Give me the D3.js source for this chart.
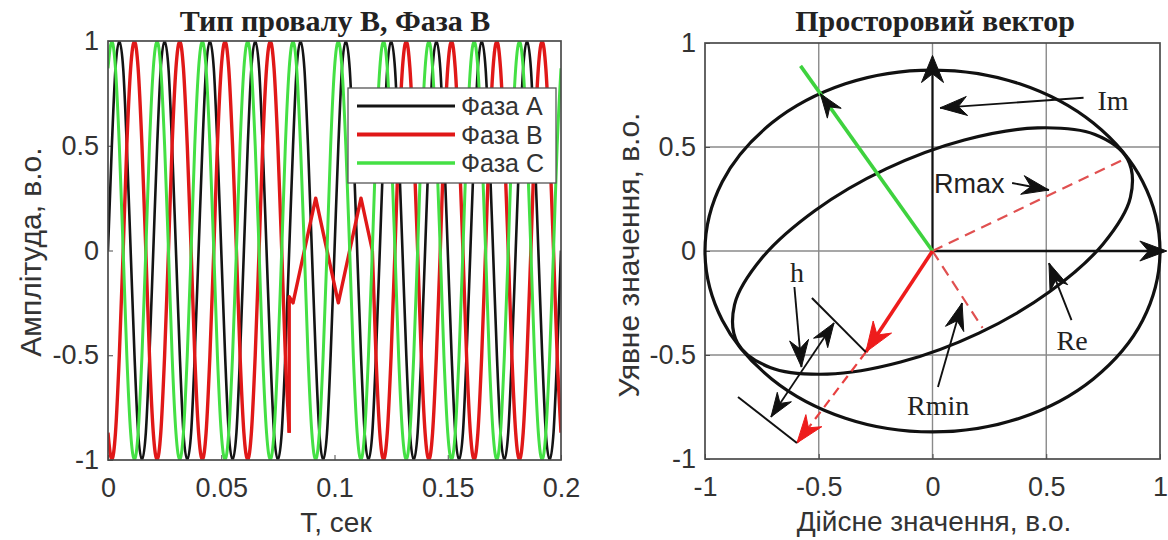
<!DOCTYPE html>
<html>
<head>
<meta charset="utf-8">
<script src="https://cdn.jsdelivr.net/npm/d3@7"></script>
<style>
  html, body { margin: 0; padding: 0; background: #fff; }
  svg { display: block; }
</style>
</head>
<body>
<svg id="chart" width="1168" height="540"></svg>
<script>
// ---- Left panel: phase voltages, samples every 1/12 of a 50 Hz period ----
const timeSec = [
  0, 0.0017, 0.0033, 0.005, 0.0067, 0.0083, 0.01, 0.0117, 0.0133, 0.015, 0.0167, 0.0183,
  0.02, 0.0217, 0.0233, 0.025, 0.0267, 0.0283, 0.03, 0.0317, 0.0333, 0.035, 0.0367, 0.0383,
  0.04, 0.0417, 0.0433, 0.045, 0.0467, 0.0483, 0.05, 0.0517, 0.0533, 0.055, 0.0567, 0.0583,
  0.06, 0.0617, 0.0633, 0.065, 0.0667, 0.0683, 0.07, 0.0717, 0.0733, 0.075, 0.0767, 0.0783,
  0.08, 0.0817, 0.0833, 0.085, 0.0867, 0.0883, 0.09, 0.0917, 0.0933, 0.095, 0.0967, 0.0983,
  0.1, 0.1017, 0.1033, 0.105, 0.1067, 0.1083, 0.11, 0.1117, 0.1133, 0.115, 0.1167, 0.1183,
  0.12, 0.1217, 0.1233, 0.125, 0.1267, 0.1283, 0.13, 0.1317, 0.1333, 0.135, 0.1367, 0.1383,
  0.14, 0.1417, 0.1433, 0.145, 0.1467, 0.1483, 0.15, 0.1517, 0.1533, 0.155, 0.1567, 0.1583,
  0.16, 0.1617, 0.1633, 0.165, 0.1667, 0.1683, 0.17, 0.1717, 0.1733, 0.175, 0.1767, 0.1783,
  0.18, 0.1817, 0.1833, 0.185, 0.1867, 0.1883, 0.19, 0.1917, 0.1933, 0.195, 0.1967, 0.1983,
  0.2
];
const phaseA = [
  0, 0.5, 0.87, 1, 0.87, 0.5, 0, -0.5, -0.87, -1, -0.87, -0.5,
  0, 0.5, 0.87, 1, 0.87, 0.5, 0, -0.5, -0.87, -1, -0.87, -0.5,
  0, 0.5, 0.87, 1, 0.87, 0.5, 0, -0.5, -0.87, -1, -0.87, -0.5,
  0, 0.5, 0.87, 1, 0.87, 0.5, 0, -0.5, -0.87, -1, -0.87, -0.5,
  0, 0.5, 0.87, 1, 0.87, 0.5, 0, -0.5, -0.87, -1, -0.87, -0.5,
  0, 0.5, 0.87, 1, 0.87, 0.5, 0, -0.5, -0.87, -1, -0.87, -0.5,
  0, 0.5, 0.87, 1, 0.87, 0.5, 0, -0.5, -0.87, -1, -0.87, -0.5,
  0, 0.5, 0.87, 1, 0.87, 0.5, 0, -0.5, -0.87, -1, -0.87, -0.5,
  0, 0.5, 0.87, 1, 0.87, 0.5, 0, -0.5, -0.87, -1, -0.87, -0.5,
  0, 0.5, 0.87, 1, 0.87, 0.5, 0, -0.5, -0.87, -1, -0.87, -0.5,
  0
];
// Phase B: null where the sagged segment (below) takes over
const phaseB = [
  -0.87, -1, -0.87, -0.5, 0, 0.5, 0.87, 1, 0.87, 0.5, 0, -0.5,
  -0.87, -1, -0.87, -0.5, 0, 0.5, 0.87, 1, 0.87, 0.5, 0, -0.5,
  -0.87, -1, -0.87, -0.5, 0, 0.5, 0.87, 1, 0.87, 0.5, 0, -0.5,
  -0.87, -1, -0.87, -0.5, 0, 0.5, 0.87, 1, 0.87, 0.5, 0, -0.5,
  -0.87, null, null, null, null, null, null, null, null, null, null, null,
  null, null, null, null, null, null, null, null, null, null, null, -0.5,
  -0.87, -1, -0.87, -0.5, 0, 0.5, 0.87, 1, 0.87, 0.5, 0, -0.5,
  -0.87, -1, -0.87, -0.5, 0, 0.5, 0.87, 1, 0.87, 0.5, 0, -0.5,
  -0.87, -1, -0.87, -0.5, 0, 0.5, 0.87, 1, 0.87, 0.5, 0, -0.5,
  -0.87, -1, -0.87, -0.5, 0, 0.5, 0.87, 1, 0.87, 0.5, 0, -0.5,
  -0.87
];
const sagTimeSec = [0.08, 0.08, 0.0817, 0.0917, 0.1017, 0.1117, 0.1167];
const sagPhaseB  = [-0.87, -0.22, -0.25, 0.25, -0.25, 0.25, 0];
const phaseC = [
  0.87, 1, 0.87, 0.5, 0, -0.5, -0.87, -1, -0.87, -0.5, 0, 0.5,
  0.87, 1, 0.87, 0.5, 0, -0.5, -0.87, -1, -0.87, -0.5, 0, 0.5,
  0.87, 1, 0.87, 0.5, 0, -0.5, -0.87, -1, -0.87, -0.5, 0, 0.5,
  0.87, 1, 0.87, 0.5, 0, -0.5, -0.87, -1, -0.87, -0.5, 0, 0.5,
  0.87, 1, 0.87, 0.5, 0, -0.5, -0.87, -1, -0.87, -0.5, 0, 0.5,
  0.87, 1, 0.87, 0.5, 0, -0.5, -0.87, -1, -0.87, -0.5, 0, 0.5,
  0.87, 1, 0.87, 0.5, 0, -0.5, -0.87, -1, -0.87, -0.5, 0, 0.5,
  0.87, 1, 0.87, 0.5, 0, -0.5, -0.87, -1, -0.87, -0.5, 0, 0.5,
  0.87, 1, 0.87, 0.5, 0, -0.5, -0.87, -1, -0.87, -0.5, 0, 0.5,
  0.87, 1, 0.87, 0.5, 0, -0.5, -0.87, -1, -0.87, -0.5, 0, 0.5,
  0.87
];
const phaseNames = ["Фаза А", "Фаза В", "Фаза С"];
const timeTicks = [0, 0.05, 0.1, 0.15, 0.2];
const ampTicks = [-1, -0.5, 0, 0.5, 1];

// ---- Right panel: space-vector trajectories (real, imaginary) ----
const outerRe = [1, 0.924, 0.707, 0.383, 0, -0.383, -0.707, -0.924, -1, -0.924, -0.707, -0.383, 0, 0.383, 0.707, 0.924];
const outerIm = [0, 0.333, 0.615, 0.804, 0.87, 0.804, 0.615, 0.333, 0, -0.333, -0.615, -0.804, -0.87, -0.804, -0.615, -0.333];
const innerRe = [0.857, 0.714, 0.462, 0.14, -0.204, -0.516, -0.75, -0.87, -0.857, -0.714, -0.462, -0.14, 0.204, 0.516, 0.75, 0.87];
const innerIm = [0.442, 0.56, 0.592, 0.534, 0.395, 0.195, -0.034, -0.258, -0.442, -0.56, -0.592, -0.534, -0.395, -0.195, 0.034, 0.258];
const vectorC = [-0.58, 0.89];        // phase C vector tip
const vectorB = [-0.293, -0.486];     // sagged phase B vector tip
const vectorBNominal = [-0.596, -0.923];
const rMaxTip = [0.84, 0.44];
const rMinTip = [0.22, -0.37];
const reImTicks = [-1, -0.5, 0, 0.5, 1];

const svg = d3.select("#chart");
const SANS = "Liberation Sans, Arial, sans-serif";
const SERIF = "Liberation Serif, Times New Roman, serif";
const AXIS_COLOR = "#4a4a4a";
const TEXT_COLOR = "#333";
const tickFmt = d => String(d);

function frame(g, x, y, xTicks, yTicks, grid) {
  const [x0, x1] = x.range(), [y1, y0] = y.range();
  if (grid) {
    g.append("g").selectAll("line").data(xTicks.slice(1, -1)).join("line")
      .attr("x1", d => x(d)).attr("x2", d => x(d)).attr("y1", y0).attr("y2", y1)
      .attr("stroke", "#8a8a8a").attr("stroke-width", 1.4);
    g.append("g").selectAll("line").data(yTicks.slice(1, -1)).join("line")
      .attr("y1", d => y(d)).attr("y2", d => y(d)).attr("x1", x0).attr("x2", x1)
      .attr("stroke", "#8a8a8a").attr("stroke-width", 1.4);
  }
  const ax = g.append("g").attr("transform", `translate(0,${y1})`)
    .call(d3.axisBottom(x).tickValues(xTicks).tickFormat(tickFmt).tickSizeInner(-5).tickSizeOuter(0).tickPadding(18));
  const ay = g.append("g").attr("transform", `translate(${x0},0)`)
    .call(d3.axisLeft(y).tickValues(yTicks).tickFormat(tickFmt).tickSizeInner(-5).tickSizeOuter(0).tickPadding(9));
  [ax, ay].forEach(a => {
    a.select(".domain").remove();
    a.selectAll("line").attr("stroke", AXIS_COLOR);
    a.selectAll("text").attr("font-family", SANS).attr("font-size", 27).attr("fill", TEXT_COLOR);
  });
  return () => g.append("rect").attr("x", x0).attr("y", y0).attr("width", x1 - x0).attr("height", y1 - y0)
    .attr("fill", "none").attr("stroke", AXIS_COLOR).attr("stroke-width", 1.7);
}

// ================= Left panel =================
const xT = d3.scaleLinear().domain([0, 0.2]).range([108, 561]);
const yA = d3.scaleLinear().domain([-1, 1]).range([460, 41]);
const gL = svg.append("g");
const closeL = frame(gL, xT, yA, timeTicks, ampTicks, false);

svg.append("clipPath").attr("id", "clipL").append("rect")
  .attr("x", 108).attr("y", 41).attr("width", 453).attr("height", 419);

const ptsA = timeSec.map((t, i) => [t, phaseA[i]]);
const ptsC = timeSec.map((t, i) => [t, phaseC[i]]);
const gridB = timeSec.map((t, i) => [t, phaseB[i]]);
const sagStart = phaseB.indexOf(null);
const sagEnd = phaseB.lastIndexOf(null);
const preB = gridB.slice(0, sagStart);
const postB = [[sagTimeSec[sagTimeSec.length - 1], sagPhaseB[sagPhaseB.length - 1]]].concat(gridB.slice(sagEnd + 1));
const sagB = sagTimeSec.map((t, i) => [t, sagPhaseB[i]]);

const smooth = d3.line().x(d => xT(d[0])).y(d => yA(d[1])).curve(d3.curveMonotoneX);
const straight = d3.line().x(d => xT(d[0])).y(d => yA(d[1]));
const RED = "#e01818", GREEN = "#44e044", BLACK = "#141414";
const wavePaths = [
  { d: smooth(ptsA), color: BLACK, width: 2.6 },
  { d: smooth(preB), color: RED, width: 3.4 },
  { d: straight(sagB), color: RED, width: 3.4 },
  { d: smooth(postB), color: RED, width: 3.4 },
  { d: smooth(ptsC), color: GREEN, width: 3 }
];
const gW = gL.append("g").attr("clip-path", "url(#clipL)");
gW.selectAll("path").data(wavePaths).join("path")
  .attr("d", d => d.d).attr("fill", "none")
  .attr("stroke", d => d.color).attr("stroke-width", d => d.width)
  .attr("stroke-linejoin", "round");
closeL();

// legend
const legendStyles = [{ color: BLACK, width: 2.8 }, { color: RED, width: 3.8 }, { color: GREEN, width: 3.4 }];
const leg = gL.append("g").attr("transform", "translate(348,88)");
leg.append("rect").attr("width", 208).attr("height", 95).attr("fill", "#fff")
  .attr("stroke", "#555").attr("stroke-width", 1.3);
phaseNames.forEach((name, i) => {
  const yy = 18 + i * 28.5;
  leg.append("line").attr("x1", 9).attr("x2", 107).attr("y1", yy).attr("y2", yy)
    .attr("stroke", legendStyles[i].color).attr("stroke-width", legendStyles[i].width);
  leg.append("text").attr("x", 113).attr("y", yy).attr("dy", "0.36em")
    .attr("font-family", SANS).attr("font-size", 25).attr("fill", TEXT_COLOR).text(name);
});

gL.append("text").attr("x", 335).attr("y", 31).attr("text-anchor", "middle")
  .attr("font-family", SERIF).attr("font-weight", "bold").attr("font-size", 30)
  .attr("fill", "#222").text("Тип провалу В, Фаза В");
gL.append("text").attr("x", 336).attr("y", 532).attr("text-anchor", "middle")
  .attr("font-family", SANS).attr("font-size", 28).attr("fill", TEXT_COLOR).text("T, сек");
gL.append("text").attr("transform", "translate(41,252) rotate(-90)").attr("text-anchor", "middle")
  .attr("font-family", SANS).attr("font-size", 30).attr("fill", TEXT_COLOR).text("Амплітуда, в.о.");

// ================= Right panel =================
const xR = d3.scaleLinear().domain([-1, 1]).range([705, 1160]);
const yR = d3.scaleLinear().domain([-1, 1]).range([459, 43]);
const gR = svg.append("g");
const closeR = frame(gR, xR, yR, reImTicks, reImTicks, true);
closeR();

const P = ([re, im]) => [xR(re), yR(im)];
function arrowHead(g, tip, from, color, len = 25, wid = 18) {
  const [tx, ty] = P(tip), [fx, fy] = P(from);
  const a = Math.atan2(ty - fy, tx - fx);
  const pts = [[0, 0], [-len, -wid / 2], [-len * 0.68, 0], [-len, wid / 2]];
  const rot = pts.map(([u, v]) => [tx + u * Math.cos(a) - v * Math.sin(a), ty + u * Math.sin(a) + v * Math.cos(a)]);
  g.append("path").attr("d", "M" + rot.join("L") + "Z").attr("fill", color).attr("stroke", color)
    .attr("stroke-width", 1).attr("stroke-linejoin", "miter");
}
function seg(g, a, b, color, width, dash) {
  const [x1, y1] = P(a), [x2, y2] = P(b);
  const l = g.append("line").attr("x1", x1).attr("y1", y1).attr("x2", x2).attr("y2", y2)
    .attr("stroke", color).attr("stroke-width", width);
  if (dash) l.attr("stroke-dasharray", dash);
  return l;
}

// real / imaginary axis arrows
seg(gR, [0, 0], [0, 0.9], "#111", 2.2);
arrowHead(gR, [0, 0.94], [0, 0], "#111", 27, 22);
seg(gR, [0, 0], [1.0, 0], "#111", 2.6);
arrowHead(gR, [1.03, 0], [0, 0], "#111", 27, 20);

// trajectories
const loop = d3.line().x(d => xR(d[0])).y(d => yR(d[1])).curve(d3.curveCatmullRomClosed.alpha(0.5));
gR.append("path").attr("d", loop(outerRe.map((r, i) => [r, outerIm[i]])))
  .attr("fill", "none").attr("stroke", "#111").attr("stroke-width", 3.2);
gR.append("path").attr("d", loop(innerRe.map((r, i) => [r, innerIm[i]])))
  .attr("fill", "none").attr("stroke", "#111").attr("stroke-width", 3.2);

// semi-axes of the ellipse
seg(gR, [0, 0], rMaxTip, "#e05050", 2.2, "11 7");
seg(gR, [0, 0], rMinTip, "#e05050", 2.2, "11 7");

// phase vectors
seg(gR, [0, 0], vectorC, "#3ed23e", 3.6);
arrowHead(gR, [vectorC[0] * 0.85, vectorC[1] * 0.85], [0, 0], "#111", 24, 17);
seg(gR, vectorB, vectorBNominal, "#e84040", 2.2, "9 6");
arrowHead(gR, vectorBNominal, vectorB, "#ee1c1c", 28, 20);
seg(gR, [0, 0], vectorB, "#ee1c1c", 3.6);
arrowHead(gR, vectorB, [0, 0], "#ee1c1c", 30, 22);

// depth h between the two vector tips
const hTop = [[-0.53, -0.226], [-0.293, -0.486]];
const hBot = [[-0.855, -0.702], [-0.596, -0.923]];
seg(gR, hTop[0], hTop[1], "#111", 2);
seg(gR, hBot[0], hBot[1], "#111", 2);
seg(gR, [-0.433, -0.346], [-0.71, -0.798], "#111", 1.8);
arrowHead(gR, [-0.433, -0.346], [-0.71, -0.798], "#111", 24, 17);
arrowHead(gR, [-0.71, -0.798], [-0.433, -0.346], "#111", 24, 17);

// labelled pointers
const pointers = [
  { text: "Im",   font: SERIF, at: [0.725, 0.68],  from: [0.664, 0.737], to: [0.033, 0.688] },
  { text: "Rmax", font: SANS,  at: [0.007, 0.279], from: [0.35, 0.327],  to: [0.512, 0.293] },
  { text: "Re",   font: SERIF, at: [0.545, -0.476], from: [0.611, -0.332], to: [0.512, -0.058] },
  { text: "Rmin", font: SERIF, at: [-0.112, -0.788], from: [0.024, -0.654], to: [0.13, -0.25] },
  { text: "h",    font: SERIF, at: [-0.626, -0.149], from: [-0.607, -0.173], to: [-0.576, -0.558] }
];
pointers.forEach(p => {
  seg(gR, p.from, p.to, "#111", 1.9);
  arrowHead(gR, p.to, p.from, "#111", 27, 19);
  const [x, y] = P(p.at);
  gR.append("text").attr("x", x).attr("y", y).attr("font-family", p.font)
    .attr("font-size", p.font === SANS ? 27 : 28).attr("fill", "#222").text(p.text);
});

gR.append("text").attr("x", 935).attr("y", 31).attr("text-anchor", "middle")
  .attr("font-family", SERIF).attr("font-weight", "bold").attr("font-size", 30)
  .attr("fill", "#222").text("Просторовий вектор");
gR.append("text").attr("x", 934).attr("y", 531).attr("text-anchor", "middle")
  .attr("font-family", SANS).attr("font-size", 28).attr("fill", TEXT_COLOR).text("Дійсне значення, в.о.");
gR.append("text").attr("transform", "translate(639,255) rotate(-90)").attr("text-anchor", "middle")
  .attr("font-family", SANS).attr("font-size", 30).attr("fill", TEXT_COLOR).text("Уявне значення, в.о.");
</script>
</body>
</html>
